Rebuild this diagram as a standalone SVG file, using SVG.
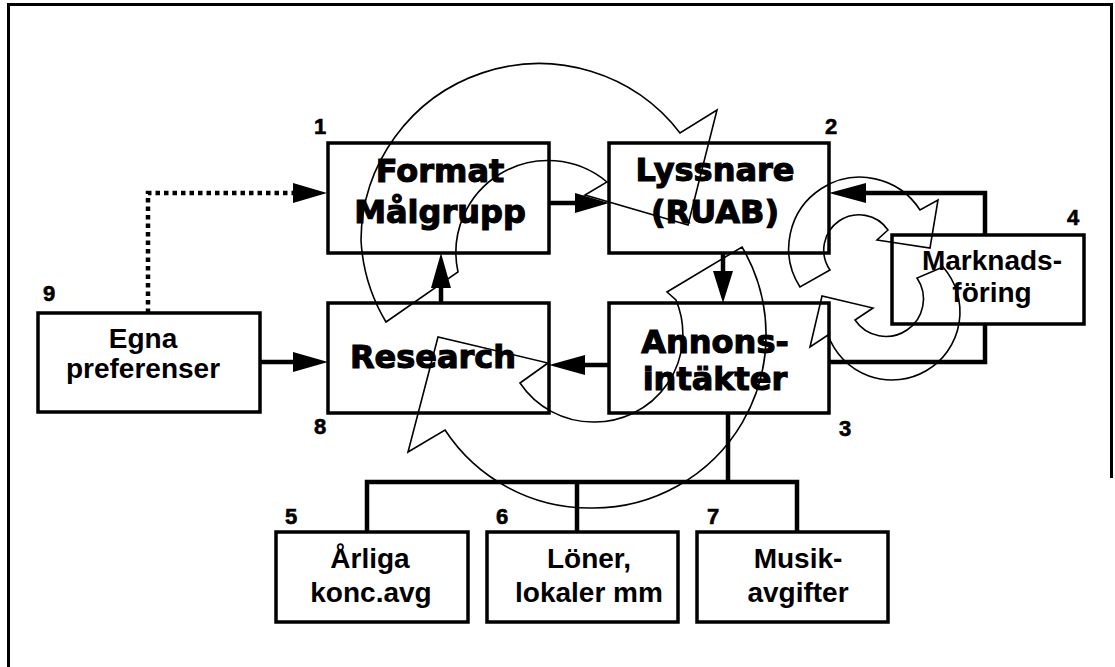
<svg xmlns="http://www.w3.org/2000/svg" width="1115" height="667" viewBox="0 0 1115 667">
<style>
.box{fill:#fff;stroke:#000;stroke-width:3.5}
.con{fill:none;stroke:#000;stroke-width:4.5}
.dot{fill:none;stroke:#000;stroke-width:4.5;stroke-dasharray:4.5 4}
.head{fill:#000;stroke:none}
.cyc{fill:none;stroke:#000;stroke-width:1.6;stroke-linejoin:miter}
.big{font-family:"DejaVu Sans",sans-serif;font-weight:bold;font-size:32px;text-anchor:middle;fill:#000;stroke:#000;stroke-width:1.1}
.sm{font-family:"Liberation Sans",Arial,sans-serif;font-weight:bold;font-size:28px;text-anchor:middle;fill:#000}
.num{font-family:"Liberation Sans",Arial,sans-serif;font-weight:bold;font-size:22px;text-anchor:middle;fill:#000;stroke:#000;stroke-width:0.6}
.frame{fill:none;stroke:#000;stroke-width:3}
</style>
<rect width="1115" height="667" fill="#fff"/>
<g id="frame">
<path class="frame" d="M8.5,667 V4.5 H1111.5 V478"/>
</g>

<g id="node1"><rect class="box" x="328" y="143" width="221" height="110"/><text class="big" x="440" y="182">Format</text><text class="big" x="440" y="223">Målgrupp</text><text class="num" x="320" y="134">1</text></g>
<g id="node2"><rect class="box" x="609" y="143" width="220" height="110"/><text class="big" x="715" y="181">Lyssnare</text><text class="big" x="715" y="223">(RUAB)</text><text class="num" x="831" y="134">2</text></g>
<g id="node3"><rect class="box" x="609" y="303" width="220" height="110"/><text class="big" x="715" y="353">Annons-</text><text class="big" x="715" y="390">intäkter</text><text class="num" x="845" y="436">3</text></g>
<g id="node8"><rect class="box" x="328" y="303" width="221" height="110"/><text class="big" x="433" y="368">Research</text><text class="num" x="320" y="434">8</text></g>
<g id="node9"><rect class="box" x="38" y="313" width="222" height="99"/><text class="sm" x="143" y="348">Egna</text><text class="sm" x="143" y="378">preferenser</text><text class="num" x="49" y="301">9</text></g>
<g id="node4"><rect class="box" x="892" y="235" width="192" height="89"/><text class="sm" x="992" y="270">Marknads-</text><text class="sm" x="992" y="302">föring</text><text class="num" x="1073" y="225">4</text></g>
<g id="node5"><rect class="box" x="276" y="532" width="192" height="90"/><text class="sm" x="370" y="568">Årliga</text><text class="sm" x="371" y="602">konc.avg</text><text class="num" x="291" y="524">5</text></g>
<g id="node6"><rect class="box" x="487" y="532" width="191" height="90"/><text class="sm" x="589" y="568">Löner,</text><text class="sm" x="589" y="602">lokaler mm</text><text class="num" x="502" y="524">6</text></g>
<g id="node7"><rect class="box" x="697" y="532" width="191" height="90"/><text class="sm" x="798" y="568">Musik-</text><text class="sm" x="798" y="602">avgifter</text><text class="num" x="713" y="524">7</text></g>

<g id="connectors">
<path class="dot" d="M148,313 V193 H294"/>
<polygon class="head" points="327,193 293,183 293,203"/>
<path class="con" d="M260,362 H294"/>
<polygon class="head" points="328,362 293,352 293,372"/>
<path class="con" d="M549,203 H576"/>
<polygon class="head" points="609,203 575,193 575,213"/>
<path class="con" d="M441,303 V287"/>
<polygon class="head" points="441,253 431,288 451,288"/>
<path class="con" d="M723,253 V272"/>
<polygon class="head" points="723,303 713,271 733,271"/>
<path class="con" d="M609,365 H584"/>
<polygon class="head" points="549,365 585,355 585,375"/>
<path class="con" d="M985,235 V193 H865"/>
<polygon class="head" points="829,193 866,183 866,203"/>
<path class="con" d="M985,324 V362 H829"/>
<path class="con" d="M728,413 V482"/>
<path class="con" d="M367,532 V482 H797 V532"/>
<path class="con" d="M577,482 V532"/>
</g>

<g id="cycle-arrows">
<path class="cyc" d="M386,322 A178,178 0 0 1 361,240 A178,178 0 0 1 680,133 L717,110 L688,225 L585,195 L607,182 A92,92 0 0 0 458,272 Z"/>
<path class="cyc" d="M742,247 A173,173 0 0 1 590,508 A173,173 0 0 1 445,430 L408,452 L438,337 L548,363 L520,383 A88,88 0 0 0 593,422 A88,88 0 0 0 676,300 L667,292 Z"/>
<path class="cyc" d="M800,287 A70,70 0 1 1 920,210 L938,200 L930,248 L877,240 L888,230 A34,34 0 1 0 830,270 Z"/>
<path class="cyc" d="M943,267 A68,68 0 1 1 828,335 L810,347 L822,296 L873,308 L855,320 A36,36 0 1 0 917,278 Z"/>
</g>
</svg>
